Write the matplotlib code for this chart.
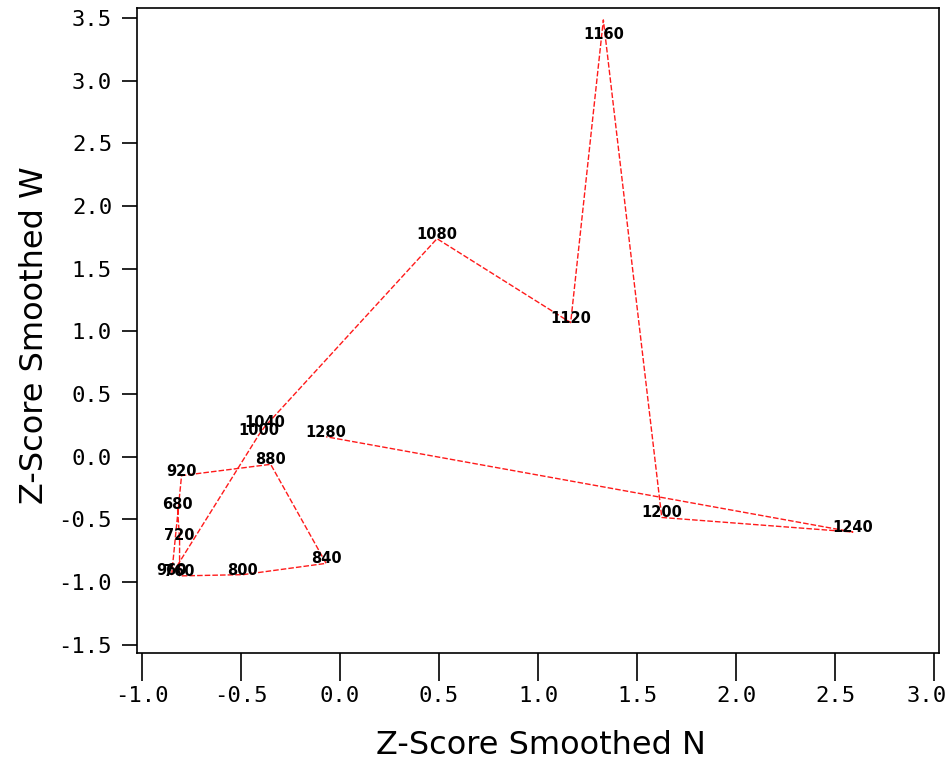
#!/usr/bin/env python3

import matplotlib
matplotlib.use('Agg')
import matplotlib.pyplot as plt
import matplotlib.transforms as mtransforms

# time labels of the trajectory, in drawing order
labels = ['680', '720', '760', '800', '840', '880', '920', '960',
          '1000', '1040', '1080', '1120', '1160', '1200', '1240', '1280']
z_n = [-0.82, -0.81, -0.81, -0.49, -0.07, -0.35, -0.80, -0.85,
       -0.41, -0.38, 0.49, 1.165, 1.33, 1.625, 2.59, -0.07]
z_w = [-0.42, -0.66, -0.95, -0.94, -0.85, -0.06, -0.15, -0.94,
       0.175, 0.24, 1.74, 1.07, 3.485, -0.484, -0.60, 0.16]

x_ticks = [-1.0, -0.5, 0.0, 0.5, 1.0, 1.5, 2.0, 2.5, 3.0]
y_ticks = [-1.5, -1.0, -0.5, 0.0, 0.5, 1.0, 1.5, 2.0, 2.5, 3.0, 3.5]


def main():
    fig = plt.figure(figsize=(9.48, 7.69), dpi=100)
    ax = fig.add_axes([137 / 948, 1 - 653 / 769, 802 / 948, 645 / 769])

    ax.plot(z_n, z_w, color='#ff1a1a', linewidth=1.0, linestyle=(0, (4, 1.5)))

    ymax = 3.58
    for lab, x, y in zip(labels, z_n, z_w):
        if y > 3.3:
            # keep the label inside the frame
            ax.annotate(lab, (x, y), xytext=(0, -5), textcoords='offset points',
                        ha='center', va='top', fontsize=10.5, fontweight='bold')
        else:
            ax.annotate(lab, (x, y), xytext=(0, 0), textcoords='offset points',
                        ha='center', va='baseline', fontsize=10.5, fontweight='bold')

    ax.set_xlim(-1.025, 3.025)
    ax.set_ylim(-1.565, ymax)
    ax.set_xticks(x_ticks)
    ax.set_yticks(y_ticks)
    ax.set_xticklabels([f'{v:.1f}' for v in x_ticks], family='DejaVu Sans Mono', fontsize=16)
    ax.set_yticklabels([f'{v:.1f}' for v in y_ticks], family='DejaVu Sans Mono', fontsize=16)
    ax.tick_params(axis='x', direction='out', length=20, width=1.2, pad=4)
    ax.tick_params(axis='y', direction='out', length=11, width=1.2, pad=7)
    for sp in ax.spines.values():
        sp.set_linewidth(1.2)

    # nudge the last x label so it stays on the canvas
    last = ax.get_xticklabels()[-1]
    last.set_transform(last.get_transform() +
                       mtransforms.ScaledTranslation(-7 / 100, 0, fig.dpi_scale_trans))

    fig.text(541 / 948, 1 - 745 / 769, 'Z-Score Smoothed N', ha='center', va='center', fontsize=23)
    fig.text(35 / 948, 1 - 335 / 769, 'Z-Score Smoothed W', ha='center', va='center',
             fontsize=23, rotation=90)

    plt.savefig('out.png', dpi=100)
    plt.close()


if __name__ == "__main__":
    main()
